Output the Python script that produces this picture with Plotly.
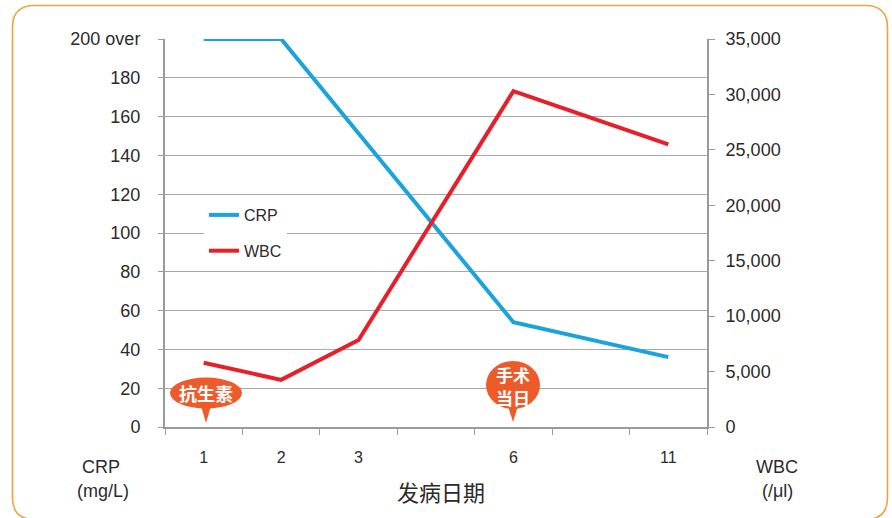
import plotly.graph_objects as go

# ---------------- data ----------------
x_labels = ["1", "2", "3", "", "6", "", "11"]          # 发病日期 columns
crp_days = ["1", "2", "6", "11"]
crp_values = [200, 200, 54, 36]                         # mg/L (200 = "200 over")
wbc_days = ["1", "2", "3", "6", "11"]
wbc_values = [5800, 4250, 7850, 30300, 25500]           # /μl
left_ticks = [0, 20, 40, 60, 80, 100, 120, 140, 160, 180, 200]
left_ticktext = ["0", "20", "40", "60", "80", "100", "120", "140", "160", "180", "200 over"]
right_ticks = [0, 5000, 10000, 15000, 20000, 25000, 30000, 35000]

# ---------------- layout constants (pixels) ----------------
W, H = 892, 518
L, R, T, B = 165, 707, 39, 427
PW, PH = R - L, B - T

def pxx(px):
    return (px - L) / PW

def pxy(py):
    return (B - py) / PH

BLUE = "#1BA3DD"
RED = "#E5202A"
ORANGE = "#EE5B2B"
FRAME = "#F4A040"
GRID = "#A8A8A8"
AXIS = "#9A9A9A"
TXT = "#2B2B2B"
NARROW = "Liberation Sans Narrow, Arial Narrow, Liberation Sans, sans-serif"
SANS = "Liberation Sans, Arial, sans-serif"
CJK = "Noto Sans CJK SC, Noto Sans CJK JP, sans-serif"

idx = {lab: i for i, lab in enumerate(x_labels) if lab}

fig = go.Figure()
fig.add_trace(go.Scatter(
    x=[idx[d] for d in crp_days], y=crp_values, name="CRP", mode="lines",
    line=dict(color=BLUE, width=4), legendgroup="a", yaxis="y"))
fig.add_trace(go.Scatter(
    x=[idx[d] for d in wbc_days], y=wbc_values, name="WBC", mode="lines",
    line=dict(color=RED, width=4), legendgroup="b", yaxis="y2"))

shapes = []
# rounded orange frame
fx0, fx1, fy0, fy1, r = 12.5, 887.5, 5.5, 519.5, 22
def P(px, py):
    return f"{pxx(px):.5f},{pxy(py):.5f}"
frame_path = (
    f"M {P(fx0 + r, fy0)} L {P(fx1 - r, fy0)} Q {P(fx1, fy0)} {P(fx1, fy0 + r)} "
    f"L {P(fx1, fy1 - r)} Q {P(fx1, fy1)} {P(fx1 - r, fy1)} "
    f"L {P(fx0 + r, fy1)} Q {P(fx0, fy1)} {P(fx0, fy1 - r)} "
    f"L {P(fx0, fy0 + r)} Q {P(fx0, fy0)} {P(fx0 + r, fy0)} Z")
shapes.append(dict(type="path", xref="paper", yref="paper", path=frame_path,
                   line=dict(color=FRAME, width=1.6), fillcolor="rgba(0,0,0,0)", layer="below"))

# callouts
def callout(cx, cy, w, h, tip):
    shapes.append(dict(type="circle", xref="paper", yref="paper",
                       x0=pxx(cx - w / 2), x1=pxx(cx + w / 2), y0=pxy(cy + h / 2), y1=pxy(cy - h / 2),
                       fillcolor=ORANGE, line=dict(width=0), layer="above"))
    top = cy + h / 2 - 6
    shapes.append(dict(type="path", xref="paper", yref="paper",
                       path=f"M {P(cx - 6, top)} L {P(cx + 6, top)} L {P(cx, tip)} Z",
                       fillcolor=ORANGE, line=dict(width=0), layer="above"))

callout(206, 393, 72, 31, 423)
callout(513, 385, 54, 48, 422)

def label(text, px, py, size, family, color=TXT):
    return dict(text=text, x=pxx(px), y=pxy(py), xref="paper", yref="paper",
                showarrow=False, font=dict(family=family, size=size, color=color),
                xanchor="center", yanchor="middle", align="center")

annotations = [
    label("<b>抗生素</b>", 206, 393, 18, CJK, "white"),
    label("<b>手术</b>", 513, 374, 17, CJK, "white"),
    label("<b>当日</b>", 513, 397, 17, CJK, "white"),
    label("CRP", 101, 467, 18, SANS),
    label("(mg/L)", 103, 491, 18, SANS),
    label("WBC", 777, 467, 18, SANS),
    label("(/μl)", 777, 491, 18, SANS),
    label("发病日期", 441, 491, 22, CJK),
]

fig.update_layout(
    width=W, height=H,
    margin=dict(l=L, r=W - R, t=T, b=H - B, pad=0),
    paper_bgcolor="white", plot_bgcolor="white",
    showlegend=True,
    legend=dict(x=pxx(204), y=pxy(198), xanchor="left", yanchor="top",
                bgcolor="white", borderwidth=0,
                font=dict(family=NARROW, size=16, color=TXT),
                traceorder="grouped", tracegroupgap=12, itemwidth=30),
    xaxis=dict(range=[-0.5, 6.5], tickmode="array", tickvals=list(range(len(x_labels))),
               ticktext=x_labels, ticks="", showgrid=False, zeroline=False,
               showline=True, linecolor=AXIS, linewidth=2,
               tickfont=dict(family=SANS, size=16, color=TXT), ticklabelstandoff=15,
               minor=dict(tickvals=[i - 0.5 for i in range(len(x_labels) + 1)],
                          ticks="outside", ticklen=6, tickcolor=AXIS, tickwidth=1, showgrid=False),
               fixedrange=True),
    yaxis=dict(range=[0, 200], tickmode="array", tickvals=left_ticks, ticktext=left_ticktext,
               showgrid=True, gridcolor=GRID, gridwidth=1, zeroline=False,
               showline=True, linecolor=AXIS, linewidth=2,
               ticks="outside", ticklen=5, tickcolor=AXIS, tickwidth=1,
               tickfont=dict(family=NARROW, size=18, color=TXT), ticklabelstandoff=14),
    yaxis2=dict(range=[0, 35000], overlaying="y", side="right", tickmode="array",
                tickvals=right_ticks, tickformat=",d", showgrid=False, zeroline=False,
                showline=True, linecolor=AXIS, linewidth=2,
                ticks="outside", ticklen=6, tickcolor=AXIS, tickwidth=1,
                tickfont=dict(family=NARROW, size=18, color=TXT), ticklabelstandoff=7),
    shapes=shapes,
    annotations=annotations,
)

fig.write_html("out.html", config={"displayModeBar": False},
               post_script="document.body.style.margin='0';")
